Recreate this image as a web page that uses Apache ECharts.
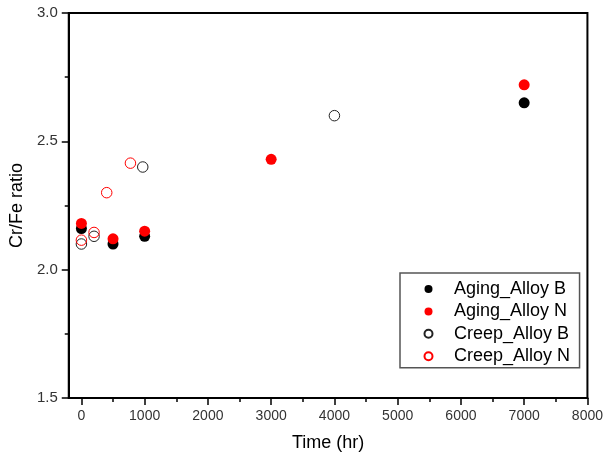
<!DOCTYPE html>
<html>
<head>
<meta charset="utf-8">
<script src="https://cdn.jsdelivr.net/npm/echarts@6/dist/echarts.min.js"></script>
<style>html,body{margin:0;padding:0;background:#fff}#c{width:606px;height:459px}</style>
</head>
<body>
<div id="c"></div>
<script>
// Data
const seriesNames = ['Aging_Alloy B', 'Aging_Alloy N', 'Creep_Alloy B', 'Creep_Alloy N'];
const agingBTime = [0, 500, 1000, 7000];
const agingBRatio = [2.16, 2.10, 2.13, 2.65];
const agingNTime = [0, 500, 1000, 3000, 7000];
const agingNRatio = [2.18, 2.12, 2.15, 2.43, 2.72];
const creepBTime = [0, 200, 970, 4000];
const creepBRatio = [2.10, 2.13, 2.40, 2.60];
const creepNTime = [0, 200, 400, 775];
const creepNRatio = [2.115, 2.145, 2.30, 2.415];
const xMajorTicks = [0, 1000, 2000, 3000, 4000, 5000, 6000, 7000, 8000];
const xMinorTicks = [500, 1500, 2500, 3500, 4500, 5500, 6500, 7500];
const yTicks = [1.5, 2.0, 2.5, 3.0];

const pairs = (xs, ys) => xs.map((x, i) => [x, ys[i]]);
const font = 'Liberation Sans, Arial, sans-serif';

const chart = echarts.init(document.getElementById('c'), null, {renderer: 'canvas'});
chart.setOption({
  animation: false,
  backgroundColor: '#fff',
  grid: {left: 68, right: 17, top: 13, bottom: 61, show: true, borderColor: '#000', borderWidth: 2, backgroundColor: 'transparent'},
  xAxis: [{
    type: 'value', min: -200, max: 8000,
    name: 'Time (hr)', nameLocation: 'middle', nameGap: 36,
    nameTextStyle: {fontFamily: font, fontSize: 18, color: '#000'},
    axisLine: {show: true, onZero: false, lineStyle: {color: '#000', width: 2}},
    axisTick: {show: true, inside: false, length: 7, customValues: xMajorTicks, lineStyle: {color: '#000', width: 1.5}},
    axisLabel: {show: true, customValues: xMajorTicks, margin: 11, fontFamily: font, fontSize: 14, color: '#333', formatter: v => String(v)},
    splitLine: {show: false}
  }, {
    type: 'value', min: -200, max: 8000, position: 'bottom',
    axisLine: {show: false},
    axisTick: {show: true, inside: false, length: 4, customValues: xMinorTicks, lineStyle: {color: '#000', width: 1.5}},
    axisLabel: {show: false},
    splitLine: {show: false}
  }],
  yAxis: {
    type: 'value', min: yTicks[0], max: yTicks[yTicks.length - 1], interval: 0.5,
    name: 'Cr/Fe ratio', nameLocation: 'middle', nameGap: 40,
    nameTextStyle: {fontFamily: font, fontSize: 18, color: '#000'},
    axisLine: {show: true, onZero: false, lineStyle: {color: '#000', width: 2}},
    axisTick: {show: true, inside: false, length: 7, lineStyle: {color: '#000', width: 1.5}},
    minorTick: {show: true, splitNumber: 2, length: 4, lineStyle: {color: '#000', width: 1.5}},
    axisLabel: {margin: 11, fontFamily: font, fontSize: 15, color: '#333', formatter: v => v.toFixed(1)},
    splitLine: {show: false}
  },
  legend: {
    orient: 'vertical', left: 400, top: 273,
    padding: [7, 9.5, 2.5, 23.5],
    itemWidth: 41, itemHeight: 8, itemGap: 4.4,
    borderColor: '#555', borderWidth: 1.5, backgroundColor: '#fff',
    textStyle: {fontFamily: font, fontSize: 18, color: '#000', lineHeight: 18},
    data: seriesNames.map(n => ({name: n, icon: 'circle'}))
  },
  series: [
    {name: seriesNames[0], type: 'scatter', xAxisIndex: 0, symbol: 'circle', symbolSize: 11,
     itemStyle: {color: '#000', opacity: 1}, data: pairs(agingBTime, agingBRatio)},
    {name: seriesNames[1], type: 'scatter', xAxisIndex: 0, symbol: 'circle', symbolSize: 11,
     itemStyle: {color: '#ff0000', opacity: 1}, data: pairs(agingNTime, agingNRatio)},
    {name: seriesNames[2], type: 'scatter', xAxisIndex: 0, symbol: 'circle', symbolSize: 10.5,
     itemStyle: {color: 'rgba(255,255,255,0)', borderColor: '#222', borderWidth: 1, opacity: 1}, data: pairs(creepBTime, creepBRatio)},
    {name: seriesNames[3], type: 'scatter', xAxisIndex: 0, symbol: 'circle', symbolSize: 10.5,
     itemStyle: {color: 'rgba(255,255,255,0)', borderColor: '#ff0000', borderWidth: 1, opacity: 1}, data: pairs(creepNTime, creepNRatio)}
  ]
});
</script>
</body>
</html>
